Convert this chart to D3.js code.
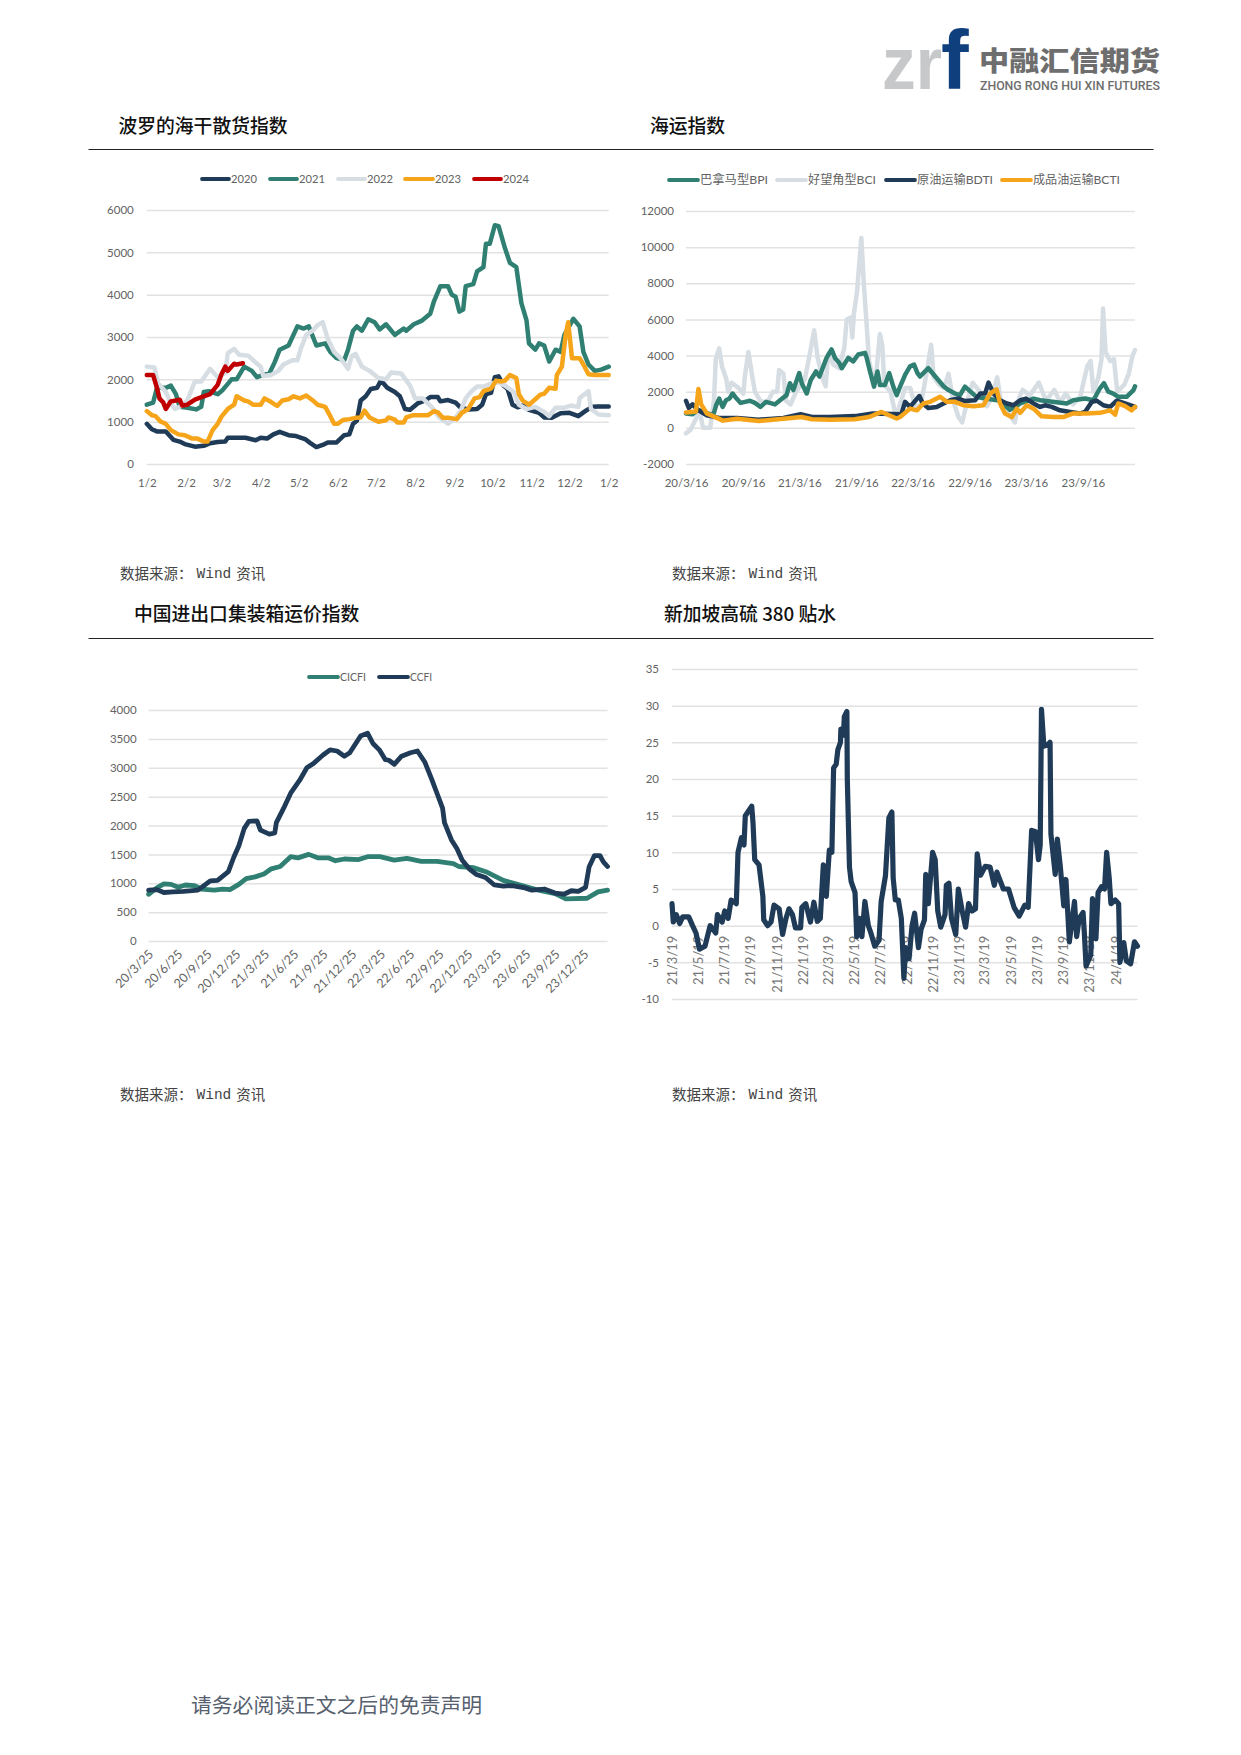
<!DOCTYPE html>
<html lang="zh"><head><meta charset="utf-8">
<script src="https://cdn.jsdelivr.net/npm/d3@7"></script>
<style>
html,body{margin:0;padding:0;background:#fff}
svg{display:block}
</style></head><body>
<svg id="page" width="1241" height="1755"></svg>
<script>
// ---------- Chart 1: Baltic Dry Index, day-of-year (from 2 Jan) and index value ----------
const monthTicks1 = ["1/2","2/2","3/2","4/2","5/2","6/2","7/2","8/2","9/2","10/2","11/2","12/2","1/2"];
const d2020 = [0,4,8,15,21,26,30,38,45,50,56,62,64,78,86,90,95,100,105,112,118,125,129,134,139,143,150,156,160,163,166,169,173,177,182,185,190,196,200,204,208,214,220,224,230,232,238,244,248,254,261,265,268,272,275,278,282,285,289,293,297,302,310,314,320,327,334,341,347,352,357,365];
const v2020 = [950,820,770,770,570,530,470,410,430,490,520,530,620,620,560,620,600,700,760,680,660,590,500,400,450,510,510,680,700,950,1020,1500,1600,1770,1800,1970,1800,1700,1600,1300,1280,1430,1500,1580,1580,1480,1510,1450,1330,1290,1300,1400,1650,1680,2050,2070,1850,1780,1400,1340,1380,1280,1210,1100,1090,1200,1210,1130,1260,1350,1360,1360];
const d2021 = [0,5,8,15,19,23,26,32,39,43,45,49,56,60,67,71,77,83,87,97,101,105,112,119,124,128,134,141,145,150,156,159,163,166,170,175,180,184,189,196,203,205,211,217,224,227,232,238,241,244,247,250,252,258,261,266,268,271,275,278,283,287,292,296,300,302,307,310,314,318,323,327,330,337,342,345,349,354,359,365];
const v2021 = [1400,1450,1800,1800,1850,1650,1350,1330,1290,1350,1700,1720,1650,1750,2000,2000,2300,2200,2050,2150,2400,2700,2800,3250,3200,3250,2800,2850,2650,2500,2450,2700,3150,3250,3150,3420,3350,3180,3300,3050,3200,3150,3300,3380,3550,3850,4200,4200,4000,3950,3600,3650,4200,4250,4550,4650,5200,5200,5640,5620,5100,4750,4650,3800,3400,2850,2700,2850,2800,2420,2700,2650,3050,3430,3250,2650,2350,2200,2230,2300];
const d2022 = [0,6,9,15,18,22,26,32,38,43,50,56,62,64,69,73,80,86,90,92,98,104,108,115,119,122,126,131,135,139,143,148,153,159,162,165,170,176,183,189,193,201,208,212,218,225,231,238,244,248,252,256,261,266,272,278,283,290,294,300,307,314,318,323,330,335,341,342,349,351,357,365];
const v2022 = [2300,2280,1900,1700,1500,1300,1350,1500,1950,1950,2250,2050,2150,2620,2720,2580,2560,2400,2300,2080,2100,2200,2350,2450,2450,2750,3050,3150,3280,3350,2950,2650,2500,2250,2550,2600,2300,2200,2030,2000,2160,2140,1850,1550,1550,1350,1100,950,1100,1250,1550,1700,1830,1830,1900,1930,1850,1700,1400,1300,1350,1230,1130,1330,1330,1380,1350,1560,1720,1300,1170,1150];
const d2023 = [0,4,7,11,15,19,25,30,36,40,45,48,52,56,59,64,69,71,77,80,84,90,93,98,103,107,112,116,121,126,132,135,141,145,148,151,155,160,165,169,172,176,183,189,191,196,198,203,205,210,222,227,230,234,239,245,249,254,259,263,266,272,276,280,283,287,292,294,297,302,307,311,314,318,323,324,328,331,333,336,340,342,345,349,354,365];
const v2023 = [1250,1150,1130,1000,950,800,700,680,600,600,530,530,800,950,1120,1300,1400,1600,1500,1480,1400,1400,1550,1470,1370,1500,1530,1600,1550,1620,1480,1400,1350,1130,950,950,1040,1060,1090,1100,1260,1100,1000,1030,1100,1050,980,980,1100,1150,1150,1250,1220,1090,1090,1060,1210,1300,1550,1580,1720,1780,1970,1950,1970,2100,2030,1650,1500,1400,1530,1640,1660,1800,1780,2100,2300,3050,3350,2500,2500,2500,2350,2120,2100,2100];
const d2024 = [0,5,8,10,13,15,19,23,26,28,32,38,45,50,56,59,62,64,69,71,76];
const v2024 = [2100,2100,1800,1550,1450,1300,1480,1500,1520,1380,1400,1520,1600,1650,1870,2120,2300,2200,2370,2350,2380];
const ticks1Y = [0,1000,2000,3000,4000,5000,6000];

// ---------- Chart 2: shipping indices, days since 2020-03-16 ----------
const ticks2X = ["2020-03-16","2020-09-16","2021-03-16","2021-09-16","2022-03-16","2022-09-16","2023-03-16","2023-09-16"];
const ticks2Y = [-2000,0,2000,4000,6000,8000,10000,12000];
const dBCI = [0,15,32,44,55,78,90,96,107,116,130,136,147,170,185,190,201,213,222,239,262,280,294,300,314,322,337,355,383,398,413,424,441,450,458,475,493,510,518,531,536,541,551,558,565,573,581,590,602,613,625,633,639,659,677,688,706,723,740,757,775,790,798,815,832,846,861,878,890,907,924,947,970,988,1003,1016,1039,1060,1074,1085,1108,1137,1160,1187,1206,1224,1247,1270,1293,1304,1313,1329,1339,1344,1352,1367,1379,1390,1413,1427,1439,1447];
const vBCI = [-300,-100,500,900,0,0,1500,3800,4400,3400,2700,2000,2500,2200,1900,2900,4200,2900,2000,1500,1400,2000,2000,3200,3000,1500,1300,2000,2700,4000,5400,3900,2700,2300,4100,3500,3300,4400,6000,6100,5000,6300,7500,9000,10500,8000,6000,3700,2800,3000,5200,4500,2400,2000,600,1200,2200,2200,1100,1300,3000,4600,2800,2400,2200,3000,1500,600,300,1500,2500,2000,1200,1800,2800,1300,800,300,1700,2100,1800,2500,1500,2100,1400,1900,1300,1700,3400,3700,2000,2800,3800,6600,4200,3700,3800,2000,2400,3000,4000,4300];
const dBPI = [0,21,38,60,88,97,107,118,129,140,150,163,176,190,206,222,240,258,287,303,324,335,346,365,373,389,402,419,430,453,469,480,494,502,523,539,555,577,582,593,606,617,625,641,655,668,679,690,706,722,735,746,754,765,781,830,846,867,883,899,937,1012,1044,1077,1120,1141,1227,1248,1286,1313,1334,1347,1361,1377,1393,1420,1442,1447];
const vBPI = [800,750,1000,850,700,1250,1620,1160,1530,1620,1900,1620,1380,1440,1500,1380,1160,1440,1300,1530,1810,2470,2090,3030,2470,1900,2650,3120,2840,3870,4340,3870,3590,3300,3870,3680,4060,4150,3900,3120,2280,3120,2370,2370,3030,2280,1810,2280,2930,3400,3500,3030,2840,3030,3300,2300,2090,1900,1810,2280,1700,1500,1000,1350,1620,1530,1350,1530,1620,1530,2190,2470,2000,1900,1720,1720,2090,2300];
const dBDTI = [0,9,21,38,67,107,165,234,314,369,406,464,544,602,694,706,722,752,763,781,808,830,851,878,899,932,948,964,975,991,1012,1034,1055,1077,1096,1120,1141,1157,1179,1205,1238,1270,1286,1308,1324,1345,1367,1388,1415,1447];
const vBDTI = [1500,1100,1300,1000,700,550,550,450,550,750,600,600,650,800,750,1440,1160,1760,1350,1100,1160,1350,1530,1620,1480,1530,1900,1900,2500,1900,1530,1350,1250,1530,1620,1350,1160,1250,1160,970,880,800,880,1440,1500,1250,1160,1500,1350,1160];
const dBCTI = [0,32,40,49,67,119,165,234,314,372,406,464,544,590,630,679,690,706,722,744,765,787,819,840,867,894,926,959,980,1001,1012,1028,1050,1066,1077,1098,1120,1146,1184,1216,1248,1291,1334,1367,1383,1393,1415,1436,1447];
const vBCTI = [850,900,2150,1300,800,400,500,380,500,600,480,450,480,600,880,520,600,830,1065,970,1350,1440,1720,1440,1440,1250,1200,1250,1900,2130,1350,800,600,1065,830,1250,1065,640,600,600,800,800,830,970,730,1350,1200,970,1160];

// ---------- Chart 3: container freight indices, days since 2020-03-25 ----------
const ticks3X = ["2020-03-25","2020-06-25","2020-09-25","2020-12-25","2021-03-25","2021-06-25","2021-09-25","2021-12-25","2022-03-25","2022-06-25","2022-09-25","2022-12-25","2023-03-25","2023-06-25","2023-09-25","2023-12-25"];
const ticks3Y = [0,500,1000,1500,2000,2500,3000,3500,4000];
const dCICFI = [0,26,48,71,93,116,144,166,206,234,256,284,307,335,363,386,414,447,470,504,532,565,588,616,661,689,728,773,813,858,908,959,976,1021,1066,1116,1150,1200,1234,1279,1313,1380,1414,1444];
const vCICFI = [810,920,990,980,930,970,960,900,880,900,890,980,1080,1110,1160,1250,1290,1460,1440,1500,1440,1440,1390,1420,1410,1460,1460,1400,1430,1380,1380,1340,1290,1270,1190,1050,1000,920,870,820,730,740,850,880];
const dCCFI = [0,26,48,76,110,155,172,194,217,251,268,284,301,315,341,352,380,397,402,425,447,475,498,520,549,571,593,616,633,667,689,706,726,745,756,773,796,824,846,869,891,908,925,931,953,970,987,1009,1032,1060,1088,1116,1144,1184,1206,1245,1279,1307,1330,1352,1375,1386,1403,1420,1431,1444];
const vCCFI = [880,890,840,850,860,880,950,1040,1050,1200,1450,1650,1950,2070,2080,1920,1850,1870,2050,2300,2560,2780,3000,3080,3220,3310,3290,3200,3260,3550,3600,3420,3310,3140,3130,3060,3200,3260,3290,3100,2800,2550,2300,2050,1750,1600,1400,1250,1150,1100,970,950,960,920,880,900,830,810,870,860,930,1280,1480,1480,1370,1290];

// ---------- Chart 4: Singapore HSFO 380 discount, days since 2021-03-19 ----------
const ticks4X = ["2021-03-19","2021-05-19","2021-07-19","2021-09-19","2021-11-19","2022-01-19","2022-03-19","2022-05-19","2022-07-19","2022-09-19","2022-11-19","2023-01-19","2023-03-19","2023-05-19","2023-07-19","2023-09-19","2023-11-19","2024-01-19"];
const ticks4Y = [-10,-5,0,5,10,15,20,25,30,35];
const dHSFO = [0,3,10,18,25,39,48,56,64,77,89,102,106,117,123,131,138,150,154,162,168,171,177,186,189,193,203,212,214,223,231,238,250,258,266,273,281,288,300,303,312,323,331,339,346,353,360,367,373,377,383,387,393,394,400,402,408,409,414,418,427,431,437,443,450,458,464,473,483,488,498,506,513,516,521,528,535,541,545,553,560,566,575,581,589,592,598,608,614,620,627,637,640,646,652,662,668,677,685,692,700,708,712,720,731,742,752,758,773,785,798,810,823,831,839,848,855,859,862,867,869,879,882,884,894,899,906,914,919,927,939,944,950,959,962,966,977,981,989,994,1002,1009,1014,1020,1024,1034,1042,1045,1054,1060,1070,1079,1086];
const vHSFO = [3,0.5,1.5,0.3,1.2,1.2,0,-1,-3.2,-2.8,0,-1,1.5,0.5,2,1,3.5,3,10,12,11,15,15.5,16.3,14,9,8.3,4,0.8,0,0.5,2.8,2.3,-1.2,1,2.3,1.5,-0.3,-0.3,2.5,3,0.5,3.2,0.6,1,8.3,4,10.3,10,21.5,22,24,25,26.8,26,28.5,29.2,20,8,6,4.5,-1.5,1,-1.5,3.3,0,-1,-2.8,-2,3.3,6.8,14.7,15.5,6.5,3.5,3.5,1,-7.2,-3,-4.5,0,1.7,-3,-0.5,0.8,7,3,10,9,2,-0.2,1.5,5.5,5.8,1,-1.2,5,2,-0.2,3,2,2.3,9.8,6.9,8.1,8,5.5,7.3,5,5,2.5,1.3,2.8,2.5,13,12.8,9,11,29.5,25,24.5,24.8,25,12.5,7,11.8,8,2.7,6.3,-2.2,3.3,-1.5,1,1.8,-1,-5.5,-4,3.7,-1.8,4.5,5.3,5,10,6.5,3,3.5,3,-5,-2.3,-4.8,-5.2,-2.2,-2.8];

// ---------- Palette ----------
const NAVY="#1f3b57", GREEN="#2f8072", LIGHT="#d6dde3", ORANGE="#f6a51a", RED="#c00000";
const GRID="#e2e2e2", TICK="#636363";
const LATIN='Lato, "Noto Sans CJK SC", sans-serif';
const CJK='"Noto Sans CJK SC", sans-serif';
const SERIF='"Liberation Serif", "Noto Sans CJK SC", serif';

const svg=d3.select("#page");
const ut=s=>new Date(s+"T00:00:00Z");
const offset=(start,n)=>d3.utcDay.offset(start,n);
const ymd=d=>`${String(d.getUTCFullYear()).slice(2)}/${d.getUTCMonth()+1}/${d.getUTCDate()}`;

function frame(box,x,yTicks){
  const y=d3.scaleLinear().domain(d3.extent(yTicks)).range([box.bottom,box.top]);
  const gy=svg.append("g").attr("transform",`translate(${box.left},0)`)
    .call(d3.axisLeft(y).tickValues(yTicks).tickSize(-(box.right-box.left)).tickPadding(box.yPad).tickFormat(d=>d));
  gy.select(".domain").remove();
  gy.selectAll(".tick line").attr("stroke",GRID).attr("stroke-width",1.5);
  gy.selectAll(".tick text").attr("fill",TICK).attr("font-size",box.fs||11.5).attr("font-family",LATIN);
  return y;
}
function series(x,y,start,days,vals,color,width){
  const pts=days.map((d,i)=>[offset(start,d),vals[i]]);
  svg.append("path").datum(pts).attr("fill","none").attr("stroke",color)
    .attr("stroke-width",width||4.5).attr("stroke-linejoin","round").attr("stroke-linecap","round")
    .attr("d",d3.line().x(p=>x(p[0])).y(p=>y(p[1])));
}
function legend(items,ly){
  items.forEach(it=>{
    svg.append("line").attr("x1",it.x0).attr("x2",it.x1).attr("y1",ly).attr("y2",ly)
      .attr("stroke",it.c).attr("stroke-width",3.8).attr("stroke-linecap","round");
    svg.append("text").attr("x",it.x1+2).attr("y",ly+4).attr("font-size",12).attr("fill",TICK)
      .attr("font-family",LATIN).attr("textLength",it.w).attr("lengthAdjust","spacingAndGlyphs").text(it.t);
  });
}
function heading(t,x,y){
  svg.append("text").attr("x",x).attr("y",y).attr("font-family",CJK).attr("font-weight",500)
    .attr("font-size",18.8).attr("fill","#111").attr("dominant-baseline","central").text(t);
}
function source(x,y){
  const t=svg.append("text").attr("x",x).attr("y",y).attr("font-family",SERIF).attr("font-size",14.5)
    .attr("fill","#444").attr("dominant-baseline","central");
  t.append("tspan").text("数据来源：");
  t.append("tspan").attr("font-family",'"Liberation Mono"').attr("dx",4).text("Wind");
  t.append("tspan").attr("dx",5).text("资讯");
}
function rule(y){
  svg.append("line").attr("x1",88.5).attr("x2",1153.5).attr("y1",y).attr("y2",y).attr("stroke","#222").attr("stroke-width",1.1);
}

// ---------- Page furniture ----------
rule(149.5); rule(638.5);
heading("波罗的海干散货指数",118.5,124);
heading("海运指数",650,124);
heading("中国进出口集装箱运价指数",134,612);
heading("新加坡高硫 380 贴水",664,612);
source(120,574); source(672,574); source(120,1095); source(672,1095);
svg.append("text").attr("x",191).attr("y",1705.5).attr("font-family",SERIF).attr("font-size",20.8)
  .attr("fill","#56606e").attr("dominant-baseline","central").text("请务必阅读正文之后的免责声明");

// Logo
const logo=svg.append("g");
logo.append("text").attr("transform","translate(882,89) scale(0.9,1)").attr("font-family",'"Liberation Sans"').attr("font-weight",700)
  .attr("font-size",75).attr("fill","#c6c8ca").text("zr");
logo.append("text").attr("transform","translate(941,89)").attr("font-family",'"Liberation Sans"').attr("font-weight",700)
  .attr("font-size",83).attr("fill","#0f3f7c").text("f");
logo.append("text").attr("x",979).attr("y",71).attr("font-family",CJK).attr("font-weight",900)
  .attr("font-size",27).attr("fill","#6e6e6e").attr("textLength",181).attr("lengthAdjust","spacingAndGlyphs").text("中融汇信期货");
logo.append("text").attr("x",980).attr("y",90).attr("font-family",'Roboto, sans-serif').attr("font-weight",500)
  .attr("font-size",12).attr("fill","#6e6e6e").attr("textLength",180).attr("lengthAdjust","spacingAndGlyphs").text("ZHONG RONG HUI XIN FUTURES");

// ---------- Chart 1 ----------
{
  const box={left:146.8,right:608.7,top:210,bottom:464,yPad:13};
  const start=ut("2001-01-02");
  const x=d3.scaleUtc().domain([start,offset(start,365)]).range([box.left,box.right]);
  const y=frame(box,x,ticks1Y);
  const tickDates=d3.range(13).map(m=>new Date(Date.UTC(2001,m,2)));
  const gx=svg.append("g").attr("transform",`translate(0,${box.bottom})`)
    .call(d3.axisBottom(x).tickValues(tickDates).tickSize(0).tickPadding(15).tickFormat((d,i)=>monthTicks1[i]));
  gx.select(".domain").remove();
  gx.selectAll("text").attr("fill",TICK).attr("font-size",11.5).attr("font-family",LATIN);
  series(x,y,start,d2020,v2020,NAVY);
  series(x,y,start,d2021,v2021,GREEN);
  series(x,y,start,d2022,v2022,LIGHT);
  series(x,y,start,d2023,v2023,ORANGE);
  series(x,y,start,d2024,v2024,RED);
  legend([
    {t:"2020",c:NAVY,x0:202,x1:229,w:26},
    {t:"2021",c:GREEN,x0:270,x1:297,w:26},
    {t:"2022",c:LIGHT,x0:338,x1:365,w:26},
    {t:"2023",c:ORANGE,x0:405,x1:433,w:26},
    {t:"2024",c:RED,x0:474,x1:501,w:26}
  ],179);
}
// ---------- Chart 2 ----------
{
  const box={left:686,right:1135,top:211,bottom:464,yPad:12};
  const start=ut("2020-03-16");
  const x=d3.scaleUtc().domain([start,offset(start,1447)]).range([box.left,box.right]);
  const y=frame(box,x,ticks2Y);
  const gx=svg.append("g").attr("transform",`translate(0,${box.bottom})`)
    .call(d3.axisBottom(x).tickValues(ticks2X.map(ut)).tickSize(0).tickPadding(15).tickFormat(ymd));
  gx.select(".domain").remove();
  gx.selectAll("text").attr("fill",TICK).attr("font-size",11.5).attr("font-family",LATIN);
  series(x,y,start,dBCI,vBCI,LIGHT);
  series(x,y,start,dBPI,vBPI,GREEN);
  series(x,y,start,dBDTI,vBDTI,NAVY);
  series(x,y,start,dBCTI,vBCTI,ORANGE);
  legend([
    {t:"巴拿马型BPI",c:GREEN,x0:669,x1:698,w:68},
    {t:"好望角型BCI",c:LIGHT,x0:777,x1:806,w:68},
    {t:"原油运输BDTI",c:NAVY,x0:886,x1:915,w:76},
    {t:"成品油运输BCTI",c:ORANGE,x0:1002,x1:1031,w:87}
  ],180);
}
// ---------- Chart 3 ----------
{
  const box={left:148.6,right:607.5,top:710,bottom:941,yPad:12};
  const start=ut("2020-03-25");
  const x=d3.scaleUtc().domain([start,offset(start,1444)]).range([box.left,box.right]);
  const y=frame(box,x,ticks3Y);
  const gx=svg.append("g").attr("transform",`translate(0,${box.bottom})`)
    .call(d3.axisBottom(x).tickValues(ticks3X.map(ut)).tickSize(0).tickPadding(0).tickFormat(ymd));
  gx.select(".domain").remove();
  gx.selectAll("text").attr("fill",TICK).attr("font-size",12.5).attr("font-family",LATIN)
    .attr("text-anchor","end").attr("dy",0).attr("y",0).attr("transform","translate(5,14) rotate(-45)");
  series(x,y,start,dCICFI,vCICFI,GREEN,4.8);
  series(x,y,start,dCCFI,vCCFI,NAVY,4.8);
  legend([
    {t:"CICFI",c:GREEN,x0:309,x1:338,w:26},
    {t:"CCFI",c:NAVY,x0:379,x1:408,w:22}
  ],677);
}
// ---------- Chart 4 ----------
{
  const box={left:672,right:1137.5,top:669,bottom:999,yPad:13};
  const start=ut("2021-03-19");
  const x=d3.scaleUtc().domain([start,offset(start,1086)]).range([box.left,box.right]);
  const y=frame(box,x,ticks4Y);
  const gx=svg.append("g").attr("transform",`translate(0,${y(0)})`)
    .call(d3.axisBottom(x).tickValues(ticks4X.map(ut)).tickSize(0).tickPadding(0).tickFormat(ymd));
  gx.select(".domain").remove();
  gx.selectAll("text").attr("fill","#777").attr("font-size",13).attr("font-family",LATIN)
    .attr("text-anchor","end").attr("dy",0).attr("y",0).attr("transform","translate(4,10) rotate(-90)");
  series(x,y,start,dHSFO,vHSFO,NAVY,5.2);
}
</script>
</body></html>
